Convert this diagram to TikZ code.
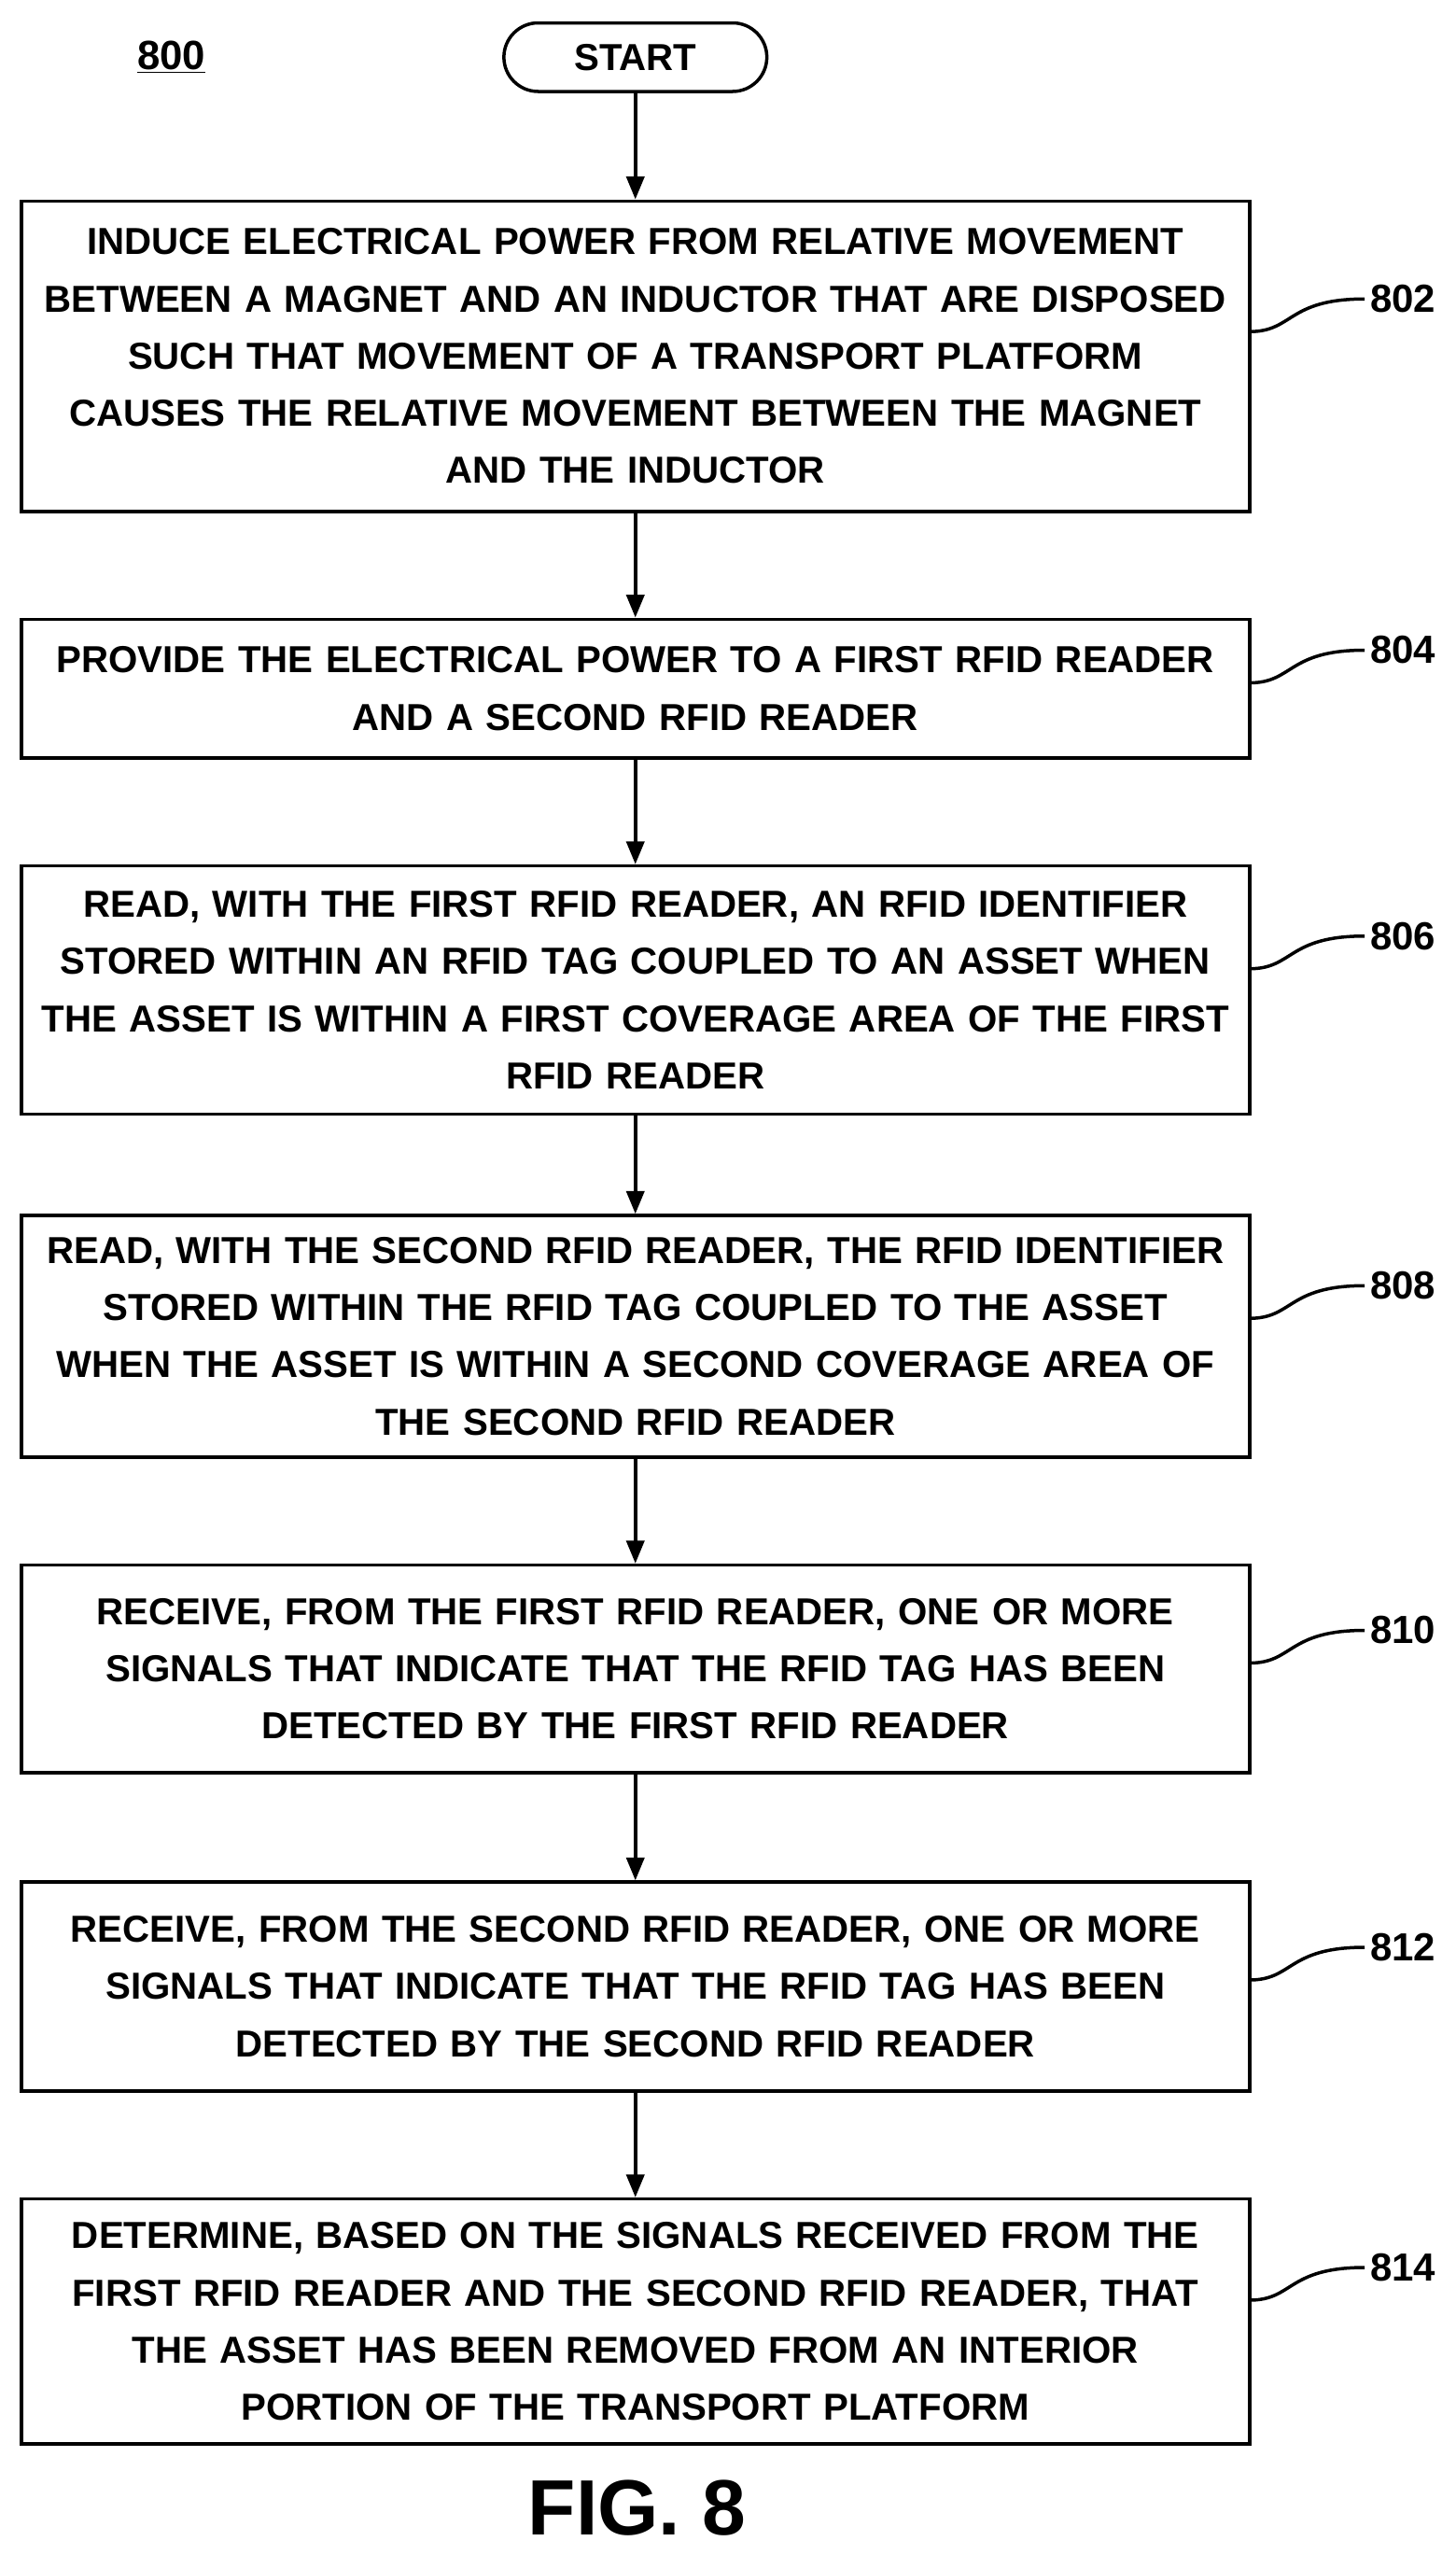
\documentclass[tikz,border=0pt]{standalone}
\usepackage{fontspec}
\setmainfont{Liberation Sans}
\usetikzlibrary{positioning,arrows.meta}
\begin{document}
\begin{tikzpicture}[x=1pt,y=-1pt,
    every node/.style={align=center,font=\fontsize{23}{35}\selectfont\bfseries},
    step box/.style={draw,line width=2pt,minimum width=752pt,text width=745pt,inner sep=0pt},
    flow arrow/.style={draw,line width=2pt,-{Triangle[length=14pt,width=11pt]}},
    leader/.style={draw,line width=2pt},
    ]
\useasboundingbox (0,0) rectangle (891,1564);
\node[draw,line width=2pt,rounded corners=21pt,minimum width=161pt,minimum height=42pt] (start) at (389,35) {START};
\node[font=\fontsize{25}{30}\selectfont\bfseries] (fig) at (105,35) {\underline{800}};
\node[step box,minimum height=190pt] (s802) at (389,218) {INDUCE ELECTRICAL POWER FROM RELATIVE MOVEMENT\\BETWEEN A MAGNET AND AN INDUCTOR THAT ARE DISPOSED\\SUCH THAT MOVEMENT OF A TRANSPORT PLATFORM\\CAUSES THE RELATIVE MOVEMENT BETWEEN THE MAGNET\\AND THE INDUCTOR};
\node[step box,minimum height=85pt] (s804) at (389,421.5) {PROVIDE THE ELECTRICAL POWER TO A FIRST RFID READER\\AND A SECOND RFID READER};
\node[step box,minimum height=152pt] (s806) at (389,606) {READ, WITH THE FIRST RFID READER, AN RFID IDENTIFIER\\STORED WITHIN AN RFID TAG COUPLED TO AN ASSET WHEN\\THE ASSET IS WITHIN A FIRST COVERAGE AREA OF THE FIRST\\RFID READER};
\node[step box,minimum height=148pt] (s808) at (389,818) {READ, WITH THE SECOND RFID READER, THE RFID IDENTIFIER\\STORED WITHIN THE RFID TAG COUPLED TO THE ASSET\\WHEN THE ASSET IS WITHIN A SECOND COVERAGE AREA OF\\THE SECOND RFID READER};
\node[step box,minimum height=127pt] (s810) at (389,1021.5) {RECEIVE, FROM THE FIRST RFID READER, ONE OR MORE\\SIGNALS THAT INDICATE THAT THE RFID TAG HAS BEEN\\DETECTED BY THE FIRST RFID READER};
\node[step box,minimum height=128pt] (s812) at (389,1216) {RECEIVE, FROM THE SECOND RFID READER, ONE OR MORE\\SIGNALS THAT INDICATE THAT THE RFID TAG HAS BEEN\\DETECTED BY THE SECOND RFID READER};
\node[step box,minimum height=150pt] (s814) at (389,1421) {DETERMINE, BASED ON THE SIGNALS RECEIVED FROM THE\\FIRST RFID READER AND THE SECOND RFID READER, THAT\\THE ASSET HAS BEEN REMOVED FROM AN INTERIOR\\PORTION OF THE TRANSPORT PLATFORM};
\node[font=\fontsize{48}{50}\selectfont\bfseries] (figlabel) at (390,1535) {FIG. 8};
% flow
\draw[flow arrow] (start) -- (s802);
\draw[flow arrow] (s802) -- (s804);
\draw[flow arrow] (s804) -- (s806);
\draw[flow arrow] (s806) -- (s808);
\draw[flow arrow] (s808) -- (s810);
\draw[flow arrow] (s810) -- (s812);
\draw[flow arrow] (s812) -- (s814);
% reference numerals
\foreach \n/\y in {802/183,804/398,806/573,808/787,810/998,812/1192,814/1388}{
  \node[font=\fontsize{24}{30}\selectfont\bfseries] (l\n) at (859,\y) {\n};
  \coordinate (c\n) at (765,\y+20);
  \draw[leader] (c\n) .. controls (792,\y+20) and (788,\y) .. (l\n.west);
}
\end{tikzpicture}
\end{document}
